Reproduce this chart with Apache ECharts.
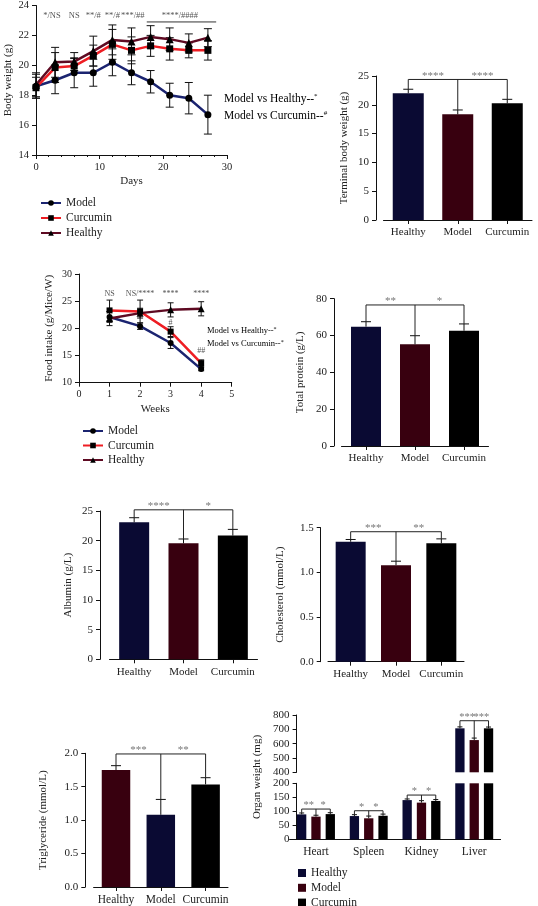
<!DOCTYPE html>
<html><head><meta charset="utf-8">
<script src="https://cdn.jsdelivr.net/npm/echarts@6/dist/echarts.min.js"></script>
<style>html,body{margin:0;padding:0;background:#fff}#c{width:538px;height:906px}</style>
</head><body><div id="c"></div>
<script>
const FONT = '"Liberation Serif", "DejaVu Serif", serif';
const TXT = '#222';
const STAR = '#777';

// ---- Panel A: body weight over days ----
const days = [0, 3, 6, 9, 12, 15, 18, 21, 24, 27];
const bwModel = [18.6, 19.0, 19.5, 19.5, 20.2, 19.5, 18.9, 18.0, 17.8, 16.7];
const bwModelErr = [0.8, 0.9, 1.0, 0.9, 0.9, 0.8, 0.75, 0.8, 1.05, 1.3];
const bwCurcumin = [18.5, 19.85, 19.95, 20.65, 21.4, 21.0, 21.3, 21.1, 21.0, 21.0];
const bwCurcuminErr = [0.7, 1.0, 0.5, 0.7, 1.0, 0.9, 0.7, 0.75, 0.5, 0.65];
const bwHealthy = [18.7, 20.2, 20.25, 20.95, 21.7, 21.6, 21.9, 21.75, 21.5, 21.85];
const bwHealthyErr = [0.8, 1.0, 0.6, 1.0, 1.0, 0.9, 0.75, 0.75, 0.6, 0.6];
const bwSigX = [2.5, 6, 9, 12, 15.2, 22.6];
const bwSigLabels = ['*/NS', 'NS', '**/#', '**/#', '***/##', '****/####'];
const bwSigLevel = 23.3;
const bwSigLine = [17.4, 28.3];
const bwSigLineLevel = 22.9;

// ---- Panel C: food intake over weeks ----
const weeks = [1, 2, 3, 4];
const fiModel = [22.1, 20.4, 17.3, 12.5];
const fiModelErr = [1.0, 0.6, 1.0, 0.3];
const fiCurcumin = [23.3, 23.1, 19.4, 13.6];
const fiCurcuminErr = [1.9, 2.1, 0.9, 0.6];
const fiHealthy = [21.8, 22.8, 23.4, 23.6];
const fiHealthyErr = [1.3, 0.9, 1.3, 1.3];
const fiSigLabels = ['NS', 'NS/****', '****', '****'];
const fiSigLevel = 26.4;
const fiHashX = [3, 4];
const fiHashY = [21.0, 15.9];
const fiHashLabels = ['#', '##'];

// ---- Bar panels ----
const groups = ['Healthy', 'Model', 'Curcumin'];
const tbw = [22.0, 18.35, 20.25], tbwErr = [0.7, 0.75, 0.7], tbwBracket = 24.4, tbwStars = ['****', '****'];
const tp = [64.8, 55.2, 62.6], tpErr = [2.7, 4.7, 3.7], tpBracket = 76.6, tpStars = ['**', '*'];
const alb = [23.1, 19.55, 20.85], albErr = [0.77, 0.73, 1.05], albBracket = 25.2, albStars = ['****', '*'];
const chol = [1.343, 1.08, 1.325], cholErr = [0.025, 0.045, 0.05], cholBracket = 1.455, cholStars = ['***', '**'];
const tg = [1.75, 1.08, 1.535], tgErr = [0.065, 0.23, 0.1], tgBracket = 1.99, tgStars = ['***', '**'];

// ---- Panel H: organ weight ----
const organs = ['Heart', 'Spleen', 'Kidney', 'Liver'];
const orgHealthy = [89, 83, 140, 707], orgHealthyErr = [5, 5, 4, 10];
const orgModel = [81, 75, 131, 625], orgModelErr = [5, 8, 7, 14];
const orgCurcumin = [90, 84, 137, 707], orgCurcuminErr = [5, 6, 5, 9];
const orgBracket = [108, 102, 158, 760];
const orgStars = [['**', '*'], ['*', '*'], ['*', '*'], ['***', '***']];

const NAVY = '#0a0a33', MAROON = '#38000f', BLACK = '#000000';
const LINE_MODEL = '#1b2470', LINE_CUR = '#ee1d23', LINE_HEALTHY = '#5e0a22';

const chart = echarts.init(document.getElementById('c'));

function yAx(g, min, max, interval, name, nameGap, offset, fs, dec) {
  return {
    type: 'value', gridIndex: g, min, max, interval, offset: offset || 0,
    name, nameLocation: 'middle', nameGap,
    nameTextStyle: { color: TXT, fontFamily: FONT, fontSize: 11 },
    axisLine: { show: true, lineStyle: { color: '#111', width: 1 } },
    axisTick: { show: true, length: 4, lineStyle: { color: '#111' } },
    axisLabel: { color: TXT, fontFamily: FONT, fontSize: fs, margin: 7,
      formatter: dec ? (v => v.toFixed(dec)) : null },
    splitLine: { show: false }
  };
}
function xCat(g, data, fs, show) {
  return {
    type: 'category', gridIndex: g, data, show: show !== false,
    axisLine: { show: true, lineStyle: { color: '#111', width: 1 } },
    axisTick: { show: true, alignWithLabel: true, length: 4, lineStyle: { color: '#111' } },
    axisLabel: { color: TXT, fontFamily: FONT, fontSize: fs, margin: 7, interval: 0 },
    splitLine: { show: false }
  };
}
function xVal(g, min, max, interval, name, nameGap, fs, minor) {
  return {
    type: 'value', gridIndex: g, min, max, interval,
    name, nameLocation: 'middle', nameGap,
    nameTextStyle: { color: TXT, fontFamily: FONT, fontSize: 11 },
    axisLine: { show: true, onZero: false, lineStyle: { color: '#111', width: 1 } },
    axisTick: { show: true, length: 4, lineStyle: { color: '#111' } },
    minorTick: { show: !!minor, splitNumber: 5, length: 2, lineStyle: { color: '#111' } },
    axisLabel: { color: TXT, fontFamily: FONT, fontSize: fs, margin: 7 },
    splitLine: { show: false }
  };
}

function lineSeries(name, xi, xs, ys, symbol, size, color) {
  return {
    type: 'line', name, xAxisIndex: xi, yAxisIndex: xi,
    data: xs.map((x, i) => [x, ys[i]]),
    symbol, symbolSize: size, showSymbol: true,
    lineStyle: { color, width: 2.5 },
    itemStyle: { color: '#000' },
    z: 4
  };
}
function errBoth(xi, xs, ys, es, capHalf) {
  return {
    type: 'custom', xAxisIndex: xi, yAxisIndex: xi, silent: true, clip: false, z: 3,
    data: xs.map((x, i) => [x, ys[i], es[i]]),
    renderItem: (p, api) => {
      const x = api.value(0), y = api.value(1), e = api.value(2);
      const hi = api.coord([x, y + e]), lo = api.coord([x, y - e]);
      const st = { stroke: '#111', lineWidth: 1 };
      return { type: 'group', children: [
        { type: 'line', shape: { x1: hi[0], y1: hi[1], x2: lo[0], y2: lo[1] }, style: st },
        { type: 'line', shape: { x1: hi[0] - capHalf, y1: hi[1], x2: hi[0] + capHalf, y2: hi[1] }, style: st },
        { type: 'line', shape: { x1: lo[0] - capHalf, y1: lo[1], x2: lo[0] + capHalf, y2: lo[1] }, style: st }
      ]};
    }
  };
}
function errUp(xi, yi, idx, ys, es, off, capHalf) {
  return {
    type: 'custom', xAxisIndex: xi, yAxisIndex: yi, silent: true, clip: false, z: 3,
    data: idx.map((c, k) => [c, ys[k], es[k]]),
    renderItem: (p, api) => {
      const x = api.value(0), y = api.value(1), e = api.value(2);
      const lo = api.coord([x, y]), hi = api.coord([x, y + e]);
      const cx = lo[0] + off;
      const st = { stroke: '#111', lineWidth: 1 };
      return { type: 'group', children: [
        { type: 'line', shape: { x1: cx, y1: lo[1], x2: cx, y2: hi[1] }, style: st },
        { type: 'line', shape: { x1: cx - capHalf, y1: hi[1], x2: cx + capHalf, y2: hi[1] }, style: st }
      ]};
    }
  };
}
// bracket: xs = [[cat, pxOffset] x3], tops = drop ends (value units)
function bracket(xi, yi, xs, tops, level, stars, fs) {
  return {
    type: 'custom', xAxisIndex: xi, yAxisIndex: yi, silent: true, clip: false, z: 5,
    data: [[xs[0][0], level]],
    renderItem: (p, api) => {
      const pts = xs.map((x, i) => {
        const c = api.coord([x[0], level]);
        const t = api.coord([x[0], tops[i]]);
        return [c[0] + x[1], c[1], t[1]];
      });
      const ly = pts[0][1];
      const st = { stroke: '#222', lineWidth: 1 };
      const ch = [{ type: 'line', shape: { x1: pts[0][0], y1: ly, x2: pts[2][0], y2: ly }, style: st }];
      pts.forEach(q => ch.push({ type: 'line', shape: { x1: q[0], y1: ly, x2: q[0], y2: q[2] }, style: st }));
      [0, 1].forEach(k => ch.push({ type: 'text', x: (pts[k][0] + pts[k + 1][0]) / 2, y: ly + 2,
        style: { text: stars[k], fill: STAR, font: fs + 'px ' + FONT, align: 'center', verticalAlign: 'bottom' } }));
      return { type: 'group', children: ch };
    }
  };
}
function sigText(xi, xs, ys, labels, fs, color) {
  return {
    type: 'custom', xAxisIndex: xi, yAxisIndex: xi, silent: true, clip: false, z: 5,
    data: xs.map((x, i) => [x, ys[i]]),
    renderItem: (p, api) => {
      const c = api.coord([api.value(0), api.value(1)]);
      return { type: 'text', x: c[0], y: c[1],
        style: { text: labels[p.dataIndex], fill: color, font: fs + 'px ' + FONT, align: 'center', verticalAlign: 'middle' } };
    }
  };
}
function barPanel(g, vals, errs, colors, bw, level, stars) {
  const idx = vals.map((v, i) => i);
  return [
    { type: 'bar', xAxisIndex: g, yAxisIndex: g, barWidth: bw, silent: true,
      data: vals.map((v, i) => ({ value: v, itemStyle: { color: colors[i] } })), z: 2 },
    errUp(g, g, idx, vals, errs, 0, 5),
    bracket(g, g, [[0, 0], [1, 0], [2, 0]], vals.map((v, i) => v + errs[i]), level, stars, 11)
  ];
}

const grids = [
  { left: 36, top: 4, width: 191, height: 151 },
  { left: 383.5, top: 76, width: 148.5, height: 144 },
  { left: 79, top: 274, width: 152.7, height: 108.7 },
  { left: 341.5, top: 298.7, width: 147, height: 147.3 },
  { left: 109.5, top: 511, width: 148, height: 148.3 },
  { left: 328, top: 527.7, width: 136, height: 134 },
  { left: 93.6, top: 753.3, width: 134.4, height: 134 },
  { left: 289.6, top: 783.3, width: 211, height: 56 },
  { left: 289.6, top: 715, width: 211, height: 57.3 }
];

const xAxis = [
  xVal(0, 0, 30, 10, 'Days', 21, 10.5, true),
  xCat(1, groups, 11),
  xVal(2, 0, 5, 1, 'Weeks', 21, 10, false),
  xCat(3, groups, 11),
  xCat(4, groups, 11),
  xCat(5, groups, 11),
  xCat(6, groups, 11.5),
  Object.assign(xCat(7, organs, 11.5), { axisTick: { show: false } }),
  xCat(8, organs, 11, false)
];
const yAxis = [
  yAx(0, 14, 24, 2, 'Body weight (g)', 22, 0, 10.5),
  yAx(1, 0, 25, 5, 'Terminal body weight (g)', 26, 7.5, 11),
  yAx(2, 10, 30, 5, 'Food intake (g/Mice/W)', 24, 0, 10),
  yAx(3, 0, 80, 20, 'Total protein (g/L)', 28, 7.5, 11),
  yAx(4, 0, 25, 5, 'Albumin (g/L)', 26, 9.5, 11),
  yAx(5, 0, 1.5, 0.5, 'Cholesterol (mmol/L)', 35, 7.3, 11, 1),
  yAx(6, 0, 2, 0.5, 'Triglyceride (mmol/L)', 37, 8.3, 11, 1),
  yAx(7, 0, 200, 50, '', 0, -7, 11),
  yAx(8, 400, 800, 100, '', 0, -7, 11)
];

const series = [
  lineSeries('Model', 0, days, bwModel, 'circle', 7, LINE_MODEL),
  lineSeries('Curcumin', 0, days, bwCurcumin, 'rect', 7, LINE_CUR),
  lineSeries('Healthy', 0, days, bwHealthy, 'triangle', 8, LINE_HEALTHY),
  errBoth(0, days, bwModel, bwModelErr, 4),
  errBoth(0, days, bwCurcumin, bwCurcuminErr, 4),
  errBoth(0, days, bwHealthy, bwHealthyErr, 4),
  sigText(0, bwSigX, bwSigX.map(() => bwSigLevel), bwSigLabels, 8.5, '#555'),
  { type: 'line', xAxisIndex: 0, yAxisIndex: 0, silent: true, symbol: 'none',
    data: bwSigLine.map(x => [x, bwSigLineLevel]), lineStyle: { color: '#333', width: 1 } },

  lineSeries('Model', 2, weeks, fiModel, 'circle', 6, LINE_MODEL),
  lineSeries('Curcumin', 2, weeks, fiCurcumin, 'rect', 6, LINE_CUR),
  lineSeries('Healthy', 2, weeks, fiHealthy, 'triangle', 7, LINE_HEALTHY),
  errBoth(2, weeks, fiModel, fiModelErr, 3),
  errBoth(2, weeks, fiCurcumin, fiCurcuminErr, 3),
  errBoth(2, weeks, fiHealthy, fiHealthyErr, 3),
  sigText(2, weeks, weeks.map(() => fiSigLevel), fiSigLabels, 8, '#555'),
  sigText(2, fiHashX, fiHashY, fiHashLabels, 8, '#555'),

  ...barPanel(1, tbw, tbwErr, [NAVY, MAROON, BLACK], 31, tbwBracket, tbwStars),
  ...barPanel(3, tp, tpErr, [NAVY, MAROON, BLACK], 30, tpBracket, tpStars),
  ...barPanel(4, alb, albErr, [NAVY, MAROON, BLACK], 30, albBracket, albStars),
  ...barPanel(5, chol, cholErr, [NAVY, MAROON, BLACK], 30, cholBracket, cholStars),
  ...barPanel(6, tg, tgErr, [MAROON, NAVY, BLACK], 28.5, tgBracket, tgStars)
];

// Panel H bars (lower and upper part of broken axis)
const orgSets = [[orgHealthy, orgHealthyErr, NAVY, 'Healthy'], [orgModel, orgModelErr, MAROON, 'Model'], [orgCurcumin, orgCurcuminErr, BLACK, 'Curcumin']];
const OFF = 14.3;
orgSets.forEach(([vals, errs, col, nm], k) => {
  series.push({ type: 'bar', name: nm, xAxisIndex: 7, yAxisIndex: 7, barWidth: 9.3, barGap: '54%', silent: true,
    data: vals, itemStyle: { color: col }, z: 2 });
  series.push({ type: 'bar', name: nm, xAxisIndex: 8, yAxisIndex: 8, barWidth: 9.3, barGap: '54%', silent: true,
    data: vals.map(v => v >= 400 ? v : '-'), itemStyle: { color: col }, z: 2 });
  const low = vals.map((v, i) => i).filter(i => vals[i] + errs[i] <= 200);
  const up = vals.map((v, i) => i).filter(i => vals[i] >= 400);
  series.push(errUp(7, 7, low, low.map(i => vals[i]), low.map(i => errs[i]), (k - 1) * OFF, 2.5));
  series.push(errUp(8, 8, up, up.map(i => vals[i]), up.map(i => errs[i]), (k - 1) * OFF, 2.5));
});
organs.forEach((o, i) => {
  const g = orgHealthy[i] >= 400 ? 8 : 7;
  const tops = orgSets.map(s => s[0][i] + s[1][i]);
  series.push(bracket(g, g, [[i, -OFF], [i, 0], [i, OFF]], tops, orgBracket[i], orgStars[i], 10.5));
});

const legendText = { fontFamily: FONT, fontSize: 11.5, color: TXT, lineHeight: 12 };
const option = {
  animation: false,
  backgroundColor: '#fff',
  grid: grids,
  xAxis, yAxis, series,
  legend: [
    { orient: 'vertical', left: 35, top: 192, itemWidth: 20, itemHeight: 7, itemGap: 3, selectedMode: false,
      data: ['Model', 'Curcumin', 'Healthy'], textStyle: legendText },
    { orient: 'vertical', left: 77, top: 420, itemWidth: 20, itemHeight: 7, itemGap: 2.5, selectedMode: false,
      data: ['Model', 'Curcumin', 'Healthy'], textStyle: legendText },
    { orient: 'vertical', left: 293, top: 862, height: 60, itemWidth: 8, itemHeight: 8, itemGap: 2.8, selectedMode: false,
      data: [
        { name: 'Healthy', icon: 'rect', itemStyle: { color: NAVY } },
        { name: 'Model', icon: 'rect', itemStyle: { color: MAROON } },
        { name: 'Curcumin', icon: 'rect', itemStyle: { color: BLACK } }
      ], textStyle: { fontFamily: FONT, fontSize: 11.5, color: TXT, lineHeight: 11.5 } }
  ],
  graphic: [
    { type: 'text', x: 224, y: 99, style: { text: '{a|Model vs Healthy--}{s|*}', verticalAlign: 'middle',
      rich: { a: { fontFamily: FONT, fontSize: 11.5, color: TXT }, s: { fontFamily: FONT, fontSize: 7, color: TXT, padding: [0, 0, 6, 0] } } } },
    { type: 'text', x: 224, y: 116, style: { text: '{a|Model vs Curcumin--}{s|#}', verticalAlign: 'middle',
      rich: { a: { fontFamily: FONT, fontSize: 11.5, color: TXT }, s: { fontFamily: FONT, fontSize: 7, color: TXT, padding: [0, 0, 6, 0] } } } },
    { type: 'text', x: 207, y: 331, style: { text: '{a|Model vs Healthy--}{s|*}', verticalAlign: 'middle',
      rich: { a: { fontFamily: FONT, fontSize: 8.5, color: TXT }, s: { fontFamily: FONT, fontSize: 6, color: TXT, padding: [0, 0, 4, 0] } } } },
    { type: 'text', x: 207, y: 344, style: { text: '{a|Model vs Curcumin--}{s|*}', verticalAlign: 'middle',
      rich: { a: { fontFamily: FONT, fontSize: 8.5, color: TXT }, s: { fontFamily: FONT, fontSize: 6, color: TXT, padding: [0, 0, 4, 0] } } } },
    { type: 'text', x: 257, y: 777, rotation: Math.PI / 2,
      style: { text: 'Organ weight (mg)', align: 'center', verticalAlign: 'middle', font: '11px ' + FONT, fill: TXT } }
  ]
};
chart.setOption(option);
</script>
</body></html>
